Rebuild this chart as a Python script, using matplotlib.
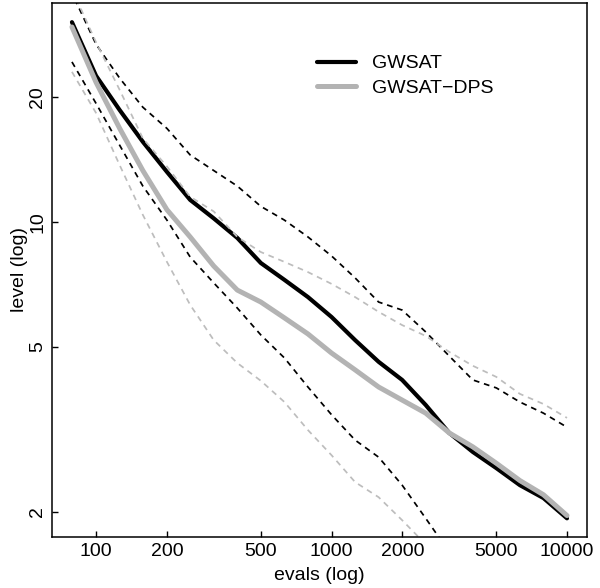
import matplotlib
matplotlib.use("Agg")
import matplotlib.pyplot as plt
from matplotlib.ticker import FixedLocator, FixedFormatter, NullLocator

plt.rcParams['font.family'] = ['Liberation Sans', 'DejaVu Sans']

# evaluations (log spaced, 10^(1.9 + 0.1 k))
evals = [79, 100, 126, 158, 200, 251, 316, 398, 501, 631, 794,
         1000, 1259, 1585, 1995, 2512, 3162, 3981, 5012, 6310, 7943, 10000]

# GWSAT: median and spread
gwsat = [30.3, 22.5, 18.6, 15.6, 13.2, 11.3, 10.2, 9.15, 7.96, 7.25, 6.59,
         5.90, 5.19, 4.60, 4.16, 3.62, 3.10, 2.79, 2.55, 2.32, 2.16, 1.93]
gwsat_hi = [35.6, 26.8, 22.2, 18.9, 16.8, 14.5, 13.3, 12.2, 10.9, 10.1, 9.2,
            8.28, 7.33, 6.41, 6.13, 5.43, 4.75, 4.16, 3.98, 3.68, 3.46, 3.20]
gwsat_lo = [24.3, 19.3, 15.3, 12.2, 10.1, 8.23, 7.13, 6.20, 5.34, 4.70, 4.00,
            3.43, 2.98, 2.71, 2.32, 1.93, 1.60]

# GWSAT-DPS: median and spread
dps = [29.5, 21.7, 16.8, 13.3, 10.7, 9.2, 7.83, 6.85, 6.41, 5.87, 5.37,
       4.83, 4.40, 4.00, 3.72, 3.46, 3.10, 2.87, 2.62, 2.38, 2.20, 1.96]
dps_hi = [36.4, 27.1, 20.8, 15.9, 13.6, 11.5, 10.6, 9.2, 8.46, 8.01, 7.57,
          7.09, 6.59, 6.07, 5.64, 5.31, 4.86, 4.50, 4.23, 3.85, 3.64, 3.37]
dps_lo = [23.0, 18.3, 13.7, 10.4, 8.01, 6.31, 5.19, 4.57, 4.14, 3.68, 3.15,
          2.74, 2.36, 2.17, 1.91, 1.67]

xticks = [100, 200, 500, 1000, 2000, 5000, 10000]
yticks = [2, 5, 10, 20]

grey = "#b3b3b3"
grey_dash = "#bdbdbd"
dash = (3.3, 2.8)

fig = plt.figure(figsize=(6, 5.88), dpi=100)
ax = fig.add_axes([52 / 600, 1 - 537 / 588, 535 / 600, 534 / 588])

ax.plot(evals, gwsat, color="black", lw=3, solid_capstyle="round", label="GWSAT")
ax.plot(evals, gwsat_hi, color="black", lw=1.25, dashes=dash)
ax.plot(evals[:len(gwsat_lo)], gwsat_lo, color="black", lw=1.25, dashes=dash)
ax.plot(evals, dps, color=grey, lw=3.6, solid_capstyle="round", label="GWSAT\u2212DPS")
ax.plot(evals, dps_hi, color=grey_dash, lw=1.25, dashes=dash)
ax.plot(evals[:len(dps_lo)], dps_lo, color=grey_dash, lw=1.25, dashes=dash)

ax.set_xscale("log")
ax.set_yscale("log")
ax.set_xlim(65, 12160)
ax.set_ylim(1.74, 33.7)

ax.xaxis.set_major_locator(FixedLocator(xticks))
ax.xaxis.set_major_formatter(FixedFormatter([str(t) for t in xticks]))
ax.xaxis.set_minor_locator(NullLocator())
ax.yaxis.set_major_locator(FixedLocator(yticks))
ax.yaxis.set_major_formatter(FixedFormatter([str(t) for t in yticks]))
ax.yaxis.set_minor_locator(NullLocator())

ax.tick_params(direction="in", length=4, width=1, labelsize=14, pad=4)
for lab in ax.get_yticklabels():
    lab.set_rotation(90)
    lab.set_va("center")

for sp in ax.spines.values():
    sp.set_linewidth(1.1)

ax.set_xlabel("evals (log)", fontsize=14, labelpad=5)
ax.set_ylabel("level (log)", fontsize=14, labelpad=1)

ax.legend(loc="upper left", bbox_to_anchor=(0.495, 0.903), frameon=False,
          fontsize=14, handlelength=2.0, handletextpad=0.85, labelspacing=0.35,
          borderpad=0, borderaxespad=0)

plt.savefig("out.png", dpi=100)
